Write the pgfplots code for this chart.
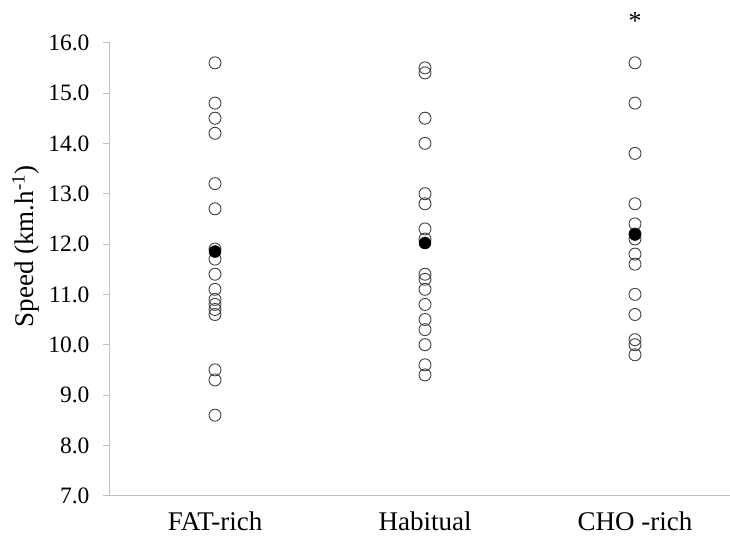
\documentclass[border=0pt]{standalone}
\usepackage{pgfplots}
\pgfplotsset{compat=1.18}
\usepackage{fontspec}
\setmainfont{Liberation Serif}
\definecolor{axgray}{HTML}{BFBFBF}
\definecolor{mk}{HTML}{404040}
\begin{document}
\begin{tikzpicture}
\path[use as bounding box] (-110bp,-49.3bp) rectangle (620bp,495.7bp);
\begin{axis}[
  scale only axis,
  width=619.5bp, height=453bp,
  xmin=0.5, xmax=3.45,
  ymin=7, ymax=16,
  axis x line*=bottom, axis y line*=left,
  axis line style={axgray, line width=1bp},
  xtick={1,2,3},
  xticklabels={FAT-rich, Habitual, CHO -rich},
  major x tick style={draw=none},
  extra x ticks={1.5,2.5},
  extra x tick labels={},
  extra x tick style={major tick length=7bp, tick style={axgray, line width=1bp}, tick align=outside},
  ytick={7,8,...,16},
  tick align=outside,
  major y tick style={axgray, line width=1bp},
  major tick length=7bp,
  yticklabel style={font=\fontsize{23.5bp}{26bp}\selectfont, xshift=-10bp},
  xticklabel style={font=\fontsize{27bp}{30bp}\selectfont, yshift=-6bp},
  /pgf/number format/assume math mode=true,
  /pgf/number format/.cd, fixed, fixed zerofill, precision=1, /pgfplots/.cd,
  ylabel={Speed (km.h\textsuperscript{-1})},
  ylabel style={font=\fontsize{27bp}{30bp}\selectfont, at={(axis description cs:-0.136,0.55)}, anchor=center, rotate=0},
  clip=false,
]
\addplot[only marks, mark=o, mark size=6bp, mark options={draw=mk, line width=0.9bp}] table {
x y
1 15.6
1 14.8
1 14.5
1 14.2
1 13.2
1 12.7
1 11.9
1 11.7
1 11.4
1 11.1
1 10.9
1 10.8
1 10.7
1 10.6
1 9.5
1 9.3
1 8.6
};
\addplot[only marks, mark=o, mark size=6bp, mark options={draw=mk, line width=0.9bp}] table {
x y
2 15.5
2 15.4
2 14.5
2 14.0
2 13.0
2 12.8
2 12.3
2 12.1
2 11.4
2 11.3
2 11.1
2 10.8
2 10.5
2 10.3
2 10.0
2 9.6
2 9.4
};
\addplot[only marks, mark=o, mark size=6bp, mark options={draw=mk, line width=0.9bp}] table {
x y
3 15.6
3 14.8
3 13.8
3 12.8
3 12.4
3 12.2
3 12.1
3 11.8
3 11.6
3 11.0
3 10.6
3 10.1
3 10.0
3 9.8
};
\addplot[only marks, mark=*, mark size=6bp, mark options={draw=black, fill=black}] table {
x y
1 11.85
2 12.02
3 12.19
};
\node[font=\fontsize{26bp}{28bp}\selectfont] at (axis cs:3,16.44) {*};
\end{axis}
\end{tikzpicture}
\end{document}
